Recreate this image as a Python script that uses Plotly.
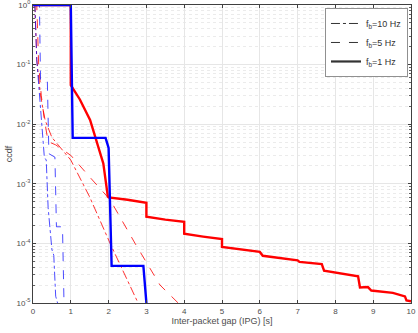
import plotly.graph_objects as go

# ccdf curves, x in seconds, y as probability
red10_x = [0, 0.05, 0.1, 0.2, 0.32, 0.5, 1.0, 1.5, 2.04, 2.4, 2.78]
red10_y = [1, 1, 0.12, 0.03, 0.0117, 0.006, 0.0025, 6e-4, 1e-4, 3.2e-5, 1e-5]

red5_x = [0, 0.1, 0.15, 0.22, 0.3, 0.4, 0.6, 1.0, 1.5, 2.04, 2.7, 3.36, 3.84]
red5_y = [1, 1, 0.1, 0.03, 0.012, 0.0051, 0.0045, 0.003, 0.0013, 5.4e-4, 1e-4, 2e-5, 1e-5]

red1_x = [0, 1.0, 1.0, 1.24, 1.51, 1.68, 1.86, 1.98, 2.0, 2.5, 3.0, 3.0, 3.5, 4.0, 4.0, 4.5, 5.0, 5.0,
          5.5, 6.0, 6.08, 6.5, 7.0, 7.05, 7.64, 7.7, 8.2, 8.6, 8.65, 8.86, 8.95, 9.52, 9.84, 9.88, 10.0]
red1_y = [1, 1, 0.045, 0.026, 0.0118, 0.0054, 0.0022, 6.1e-4, 5.9e-4, 5.4e-4, 4.8e-4, 2.8e-4, 2.5e-4, 2.3e-4,
          1.45e-4, 1.3e-4, 1.18e-4, 8.7e-5, 7.9e-5, 7.2e-5, 6.2e-5, 5.7e-5, 5.2e-5, 4.9e-5, 4.5e-5, 3.5e-5,
          3.1e-5, 2.8e-5, 1.82e-5, 1.85e-5, 1.62e-5, 1.48e-5, 1.29e-5, 1.1e-5, 1.07e-5]

blue10_x = [0, 0.05, 0.1, 0.15, 0.2, 0.3, 0.35, 0.4, 0.5, 0.55, 0.6, 0.65]
blue10_y = [1, 1, 0.12, 0.05, 0.016, 0.0028, 0.0025, 4e-4, 7.9e-5, 6.3e-5, 1.3e-5, 1e-5]

blue5_x = [0, 0.17, 0.2, 0.38, 0.42, 0.58, 0.62, 0.78, 0.82]
blue5_y = [1, 1, 0.052, 0.052, 0.0032, 0.0028, 1.9e-4, 1.9e-4, 1e-5]

blue1_x = [0, 1.0, 1.05, 1.92, 2.0, 2.08, 2.92, 3.0]
blue1_y = [1, 1, 0.0059, 0.0059, 0.004, 4.2e-5, 4.2e-5, 1e-5]

legend_names = ["f<sub>b</sub>=10 Hz", "f<sub>b</sub>=5 Hz", "f<sub>b</sub>=1 Hz"]

red = "rgb(255,0,0)"
blue = "rgb(0,0,255)"

fig = go.Figure()
curves = [
    (red10_x, red10_y, "rgba(255,0,0,0.8)", "dashdot", 1),
    (red5_x, red5_y, "rgba(255,0,0,0.8)", "dash", 1),
    (blue10_x, blue10_y, "rgba(0,0,255,0.7)", "dashdot", 1),
    (blue5_x, blue5_y, "rgba(0,0,255,0.7)", "dash", 1),
    (red1_x, red1_y, red, "solid", 2.4),
    (blue1_x, blue1_y, blue, "solid", 2.4),
]
for xs, ys, c, d, w in curves:
    fig.add_trace(go.Scatter(x=xs, y=ys, mode="lines", showlegend=False,
                             line=dict(color=c, dash=d, width=w)))

# black legend entries
for name, d, w in zip(legend_names, ["dashdot", "dash", "solid"], [1, 1, 2.2]):
    fig.add_trace(go.Scatter(x=[None], y=[None], mode="lines", name=name,
                             line=dict(color="#333333", dash=d, width=w)))

minor_vals = [m * 10 ** e for e in range(-5, 0) for m in range(2, 10)]

fig.update_layout(
    width=418, height=333,
    margin=dict(l=33, r=7, t=5, b=30),
    paper_bgcolor="white", plot_bgcolor="white",
    font=dict(family="Liberation Sans, Arial, sans-serif", size=8, color="#4d4d4d"),
    legend=dict(x=0.992, y=0.99, xanchor="right", yanchor="top",
                bgcolor="white", bordercolor="#909090", borderwidth=1,
                font=dict(size=9, color="#333333"), tracegroupgap=0, itemwidth=30),
    xaxis=dict(range=[0, 10], tickvals=list(range(11)), showgrid=True,
               gridcolor="#e6e6e6", gridwidth=1, zeroline=False, automargin=False,
               ticklabeloverflow="allow",
               showline=True, linecolor="#404040", linewidth=1, mirror="ticks",
               ticks="inside", ticklen=3, tickcolor="#404040",
               title=dict(text="Inter-packet gap (IPG) [s]", standoff=3, font=dict(size=9))),
    yaxis=dict(type="log", range=[-5, 0], automargin=False, ticklabeloverflow="allow",
               tickvals=[1e-5, 1e-4, 1e-3, 1e-2, 1e-1, 1],
               ticktext=["10<sup>-5</sup>", "10<sup>-4</sup>", "10<sup>-3</sup>",
                         "10<sup>-2</sup>", "10<sup>-1</sup>", "10<sup>0</sup>"],
               showgrid=True, gridcolor="#e6e6e6", gridwidth=1, zeroline=False,
               showline=True, linecolor="#404040", linewidth=1, mirror="ticks",
               ticks="inside", ticklen=3, tickcolor="#404040",
               minor=dict(tickvals=minor_vals, showgrid=True, gridcolor="#ebebeb",
                          griddash="dot", gridwidth=1, ticks="inside", ticklen=2,
                          tickcolor="#606060"),
               title=dict(text="ccdf", standoff=2, font=dict(size=9))),
)

fig.write_html("out.html", config={"displayModeBar": False},
               post_script="document.body.style.margin='0';")
